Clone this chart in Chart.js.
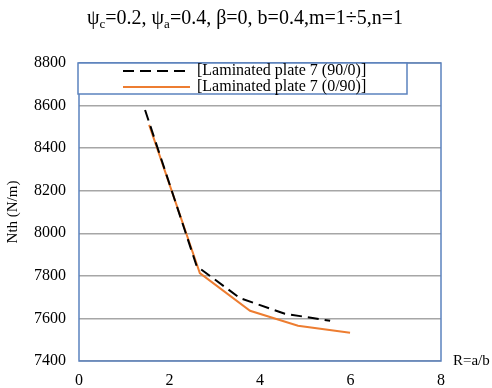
<!DOCTYPE html>
<html>
<head>
<meta charset="utf-8">
<script src="https://cdn.jsdelivr.net/npm/chart.js@4/dist/chart.umd.min.js"></script>
<style>
  html, body { margin: 0; padding: 0; background: #fff; }
  canvas { display: block; }
</style>
</head>
<body>
<canvas id="chart" width="492" height="388"></canvas>
<script>
// R = a/b values and buckling load Nth (N/m)
const seriesLabels = ['[Laminated plate 7 (90/0)]', '[Laminated plate 7 (0/90)]'];
const rPlate90_0 = [1.46, 2.60, 3.56, 4.55, 5.55];
const nPlate90_0 = [8579, 7846, 7695, 7622, 7589];
const rPlate0_90 = [1.55, 2.67, 3.78, 4.84, 5.99];
const nPlate0_90 = [8509, 7813, 7636, 7566, 7533];
const yTicks = [7400, 7600, 7800, 8000, 8200, 8400, 8600, 8800];
const xTicks = [0, 2, 4, 6, 8];

const FONT = "'Liberation Serif', 'Times New Roman', serif";
const BLUE = '#5b82be';

function toPoints(xs, ys) {
	return xs.map((x, i) => ({ x: x, y: ys[i] }));
}

// title, legend box, frame and x axis name
const decorations = {
	id: 'decorations',
	afterDraw(chart) {
		const ctx = chart.ctx;
		const area = chart.chartArea;
		ctx.save();

		// frame round the plot
		ctx.strokeStyle = BLUE;
		ctx.lineWidth = 1.5;
		ctx.strokeRect(area.left, area.top, area.right - area.left, area.bottom - area.top);

		// title with subscripts
		const parts = [
			['ψ', 0], ['c', 1], ['=0.2, ψ', 0], ['a', 1], ['=0.4, β=0, b=0.4,m=1÷5,n=1', 0]
		];
		const big = '20px ' + FONT;
		const small = '13px ' + FONT;
		let total = 0;
		parts.forEach(p => { ctx.font = p[1] ? small : big; total += ctx.measureText(p[0]).width; });
		let tx = 245 - total / 2;
		ctx.fillStyle = '#000';
		ctx.textBaseline = 'alphabetic';
		ctx.textAlign = 'left';
		parts.forEach(p => {
			ctx.font = p[1] ? small : big;
			ctx.fillText(p[0], tx, p[1] ? 28 : 24);
			tx += ctx.measureText(p[0]).width;
		});

		// legend box
		ctx.fillStyle = '#fff';
		ctx.fillRect(78, 63, 329, 31);
		ctx.strokeStyle = BLUE;
		ctx.lineWidth = 1.5;
		ctx.strokeRect(78, 63, 329, 31);

		const ds = chart.data.datasets;
		const rows = [71, 87];
		ds.forEach((d, i) => {
			ctx.beginPath();
			ctx.strokeStyle = d.borderColor;
			ctx.lineWidth = 2;
			ctx.setLineDash(d.borderDash || []);
			ctx.moveTo(123, rows[i]);
			ctx.lineTo(190, rows[i]);
			ctx.stroke();
			ctx.setLineDash([]);
			ctx.fillStyle = '#000';
			ctx.font = '16px ' + FONT;
			ctx.textBaseline = 'middle';
			ctx.fillText(d.label, 197, rows[i]);
		});

		// x axis name
		ctx.font = '15px ' + FONT;
		ctx.textBaseline = 'middle';
		ctx.fillText('R=a/b', 453, 361);
		ctx.restore();
	}
};

new Chart(document.getElementById('chart'), {
	type: 'scatter',
	data: {
		datasets: [
			{
				label: seriesLabels[0],
				data: toPoints(rPlate90_0, nPlate90_0),
				showLine: true,
				borderColor: '#000000',
				borderWidth: 2,
				borderDash: [11, 6],
				pointRadius: 0,
				fill: false
			},
			{
				label: seriesLabels[1],
				data: toPoints(rPlate0_90, nPlate0_90),
				showLine: true,
				borderColor: '#ed7d31',
				borderWidth: 2,
				pointRadius: 0,
				fill: false
			}
		]
	},
	options: {
		responsive: false,
		animation: false,
		layout: { padding: { left: 0, top: 63, right: 51, bottom: 0 } },
		plugins: {
			legend: { display: false },
			tooltip: { enabled: false }
		},
		scales: {
			x: {
				type: 'linear',
				min: 0,
				max: 8,
				afterBuildTicks: s => { s.ticks = xTicks.map(v => ({ value: v })); },
				afterFit: s => { s.height = 27; },
				grid: { display: false, drawTicks: false },
				border: { display: false },
				ticks: {
					color: '#000',
					font: { family: FONT, size: 16 },
					padding: 10,
					maxRotation: 0,
					callback: v => String(v)
				}
			},
			y: {
				type: 'linear',
				min: 7400,
				max: 8800,
				afterBuildTicks: s => { s.ticks = yTicks.map(v => ({ value: v })); },
				afterFit: s => { s.width = 79; },
				grid: { color: '#a6a6a6', lineWidth: 1.5, drawTicks: false },
				border: { display: false },
				ticks: {
					color: '#000',
					font: { family: FONT, size: 16 },
					padding: 13,
					callback: v => String(v)
				},
				title: {
					display: true,
					text: 'Nth (N/m)',
					color: '#000',
					font: { family: FONT, size: 15 },
					padding: { top: 4, bottom: 20 }
				}
			}
		}
	},
	plugins: [decorations]
});
</script>
</body>
</html>
